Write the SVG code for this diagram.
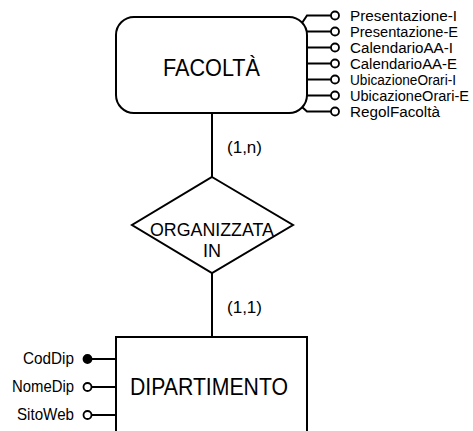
<svg xmlns="http://www.w3.org/2000/svg" width="473" height="431" viewBox="0 0 473 431">
  <style>
    .shape { fill: #ffffff; stroke: #000000; stroke-width: 2; }
    .link { fill: none; stroke: #000000; stroke-width: 2; }
    .attr { fill: none; stroke: #000000; stroke-width: 2; }
    .dot { fill: #ffffff; stroke: #000000; stroke-width: 1.8; }
    .key { fill: #000000; stroke: #000000; stroke-width: 1.8; }
    text { font-family: "Liberation Sans", Arial, sans-serif; fill: #000000; }
    .big { font-size: 23px; text-anchor: middle; }
    .rel { font-size: 18px; text-anchor: middle; }
    .card { font-size: 17px; }
    .lbl { font-size: 15.5px; }
    .lblr { font-size: 16.5px; text-anchor: end; }
  </style>
  <rect width="473" height="431" fill="#ffffff"/>

  <!-- relationship links with cardinalities -->
  <g id="connectors">
    <line class="link" x1="212" y1="113" x2="212" y2="177"/>
    <line class="link" x1="212" y1="273" x2="212" y2="337"/>
    <text class="card" x="227" y="153" textLength="35" lengthAdjust="spacingAndGlyphs">(1,n)</text>
    <text class="card" x="227" y="313" textLength="35" lengthAdjust="spacingAndGlyphs">(1,1)</text>
  </g>

  <!-- entity FACOLTÀ with its attribute comb -->
  <g id="facolta">
    <rect class="shape" x="116" y="17" width="191" height="96" rx="18" ry="18"/>
    <text class="big" x="211.5" y="76" textLength="97" lengthAdjust="spacingAndGlyphs">FACOLTÀ</text>
    <path class="attr" d="M302 23 L307 15.5 L331 15.5 M307 31.5 L331 31.5 M307 47.5 L331 47.5 M307 63.5 L331 63.5 M307 79.5 L331 79.5 M307 95.5 L331 95.5 M302 107 L307 111.5 L331 111.5"/>
    <circle class="dot" cx="335" cy="15.5" r="4"/>
    <circle class="dot" cx="335" cy="31.5" r="4"/>
    <circle class="dot" cx="335" cy="47.5" r="4"/>
    <circle class="dot" cx="335" cy="63.5" r="4"/>
    <circle class="dot" cx="335" cy="79.5" r="4"/>
    <circle class="dot" cx="335" cy="95.5" r="4"/>
    <circle class="dot" cx="335" cy="111.5" r="4"/>
    <text class="lbl" x="350" y="20.5" textLength="107" lengthAdjust="spacingAndGlyphs">Presentazione-I</text>
    <text class="lbl" x="350" y="36.5" textLength="108" lengthAdjust="spacingAndGlyphs">Presentazione-E</text>
    <text class="lbl" x="350" y="52.5" textLength="103" lengthAdjust="spacingAndGlyphs">CalendarioAA-I</text>
    <text class="lbl" x="350" y="68.5" textLength="107" lengthAdjust="spacingAndGlyphs">CalendarioAA-E</text>
    <text class="lbl" x="350" y="84.5" textLength="106" lengthAdjust="spacingAndGlyphs">UbicazioneOrari-I</text>
    <text class="lbl" x="350" y="100.5" textLength="119" lengthAdjust="spacingAndGlyphs">UbicazioneOrari-E</text>
    <text class="lbl" x="350" y="116.5" textLength="90" lengthAdjust="spacingAndGlyphs">RegolFacoltà</text>
  </g>

  <!-- relationship ORGANIZZATA IN -->
  <g id="organizzata-in">
    <polygon class="shape" points="212,177 293,225 212,273 132,225"/>
    <text class="rel" x="212" y="236" textLength="124" lengthAdjust="spacingAndGlyphs">ORGANIZZATA</text>
    <text class="rel" x="212" y="257">IN</text>
  </g>

  <!-- entity DIPARTIMENTO with identifier and attributes -->
  <g id="dipartimento">
    <rect class="shape" x="116" y="337" width="191" height="120"/>
    <text class="big" x="209" y="395" textLength="158" lengthAdjust="spacingAndGlyphs">DIPARTIMENTO</text>
    <path class="attr" d="M91.5 359 L116 359 M91.5 387 L116 387 M91.5 415 L116 415"/>
    <circle class="key" cx="87.5" cy="359" r="4"/>
    <circle class="dot" cx="87.5" cy="387" r="4"/>
    <circle class="dot" cx="87.5" cy="415" r="4"/>
    <text class="lblr" x="74" y="364" textLength="51" lengthAdjust="spacingAndGlyphs">CodDip</text>
    <text class="lblr" x="74" y="392" textLength="62" lengthAdjust="spacingAndGlyphs">NomeDip</text>
    <text class="lblr" x="74" y="420" textLength="57" lengthAdjust="spacingAndGlyphs">SitoWeb</text>
  </g>
</svg>
